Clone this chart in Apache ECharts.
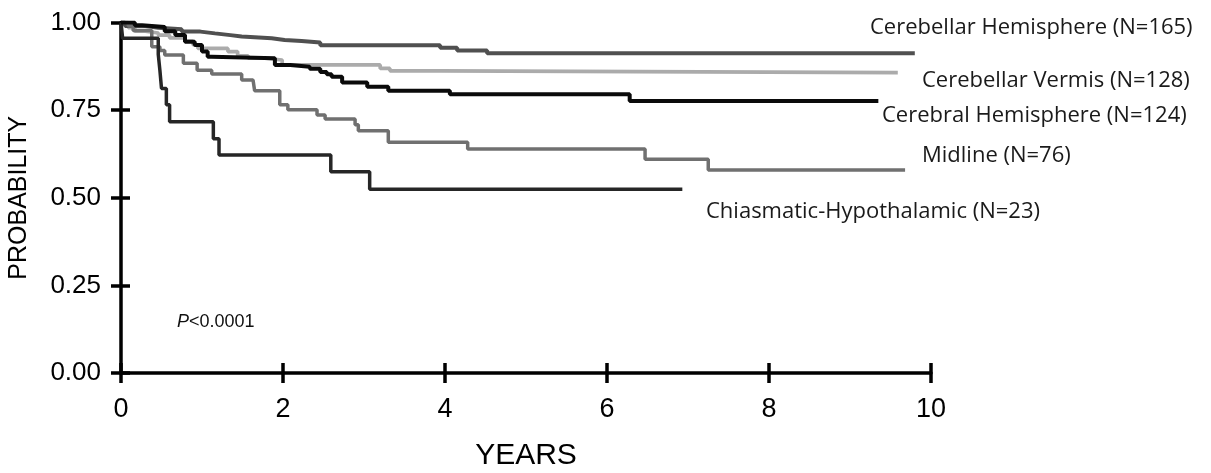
<!DOCTYPE html>
<html>
<head>
<meta charset="utf-8">
<script src="https://cdn.jsdelivr.net/npm/echarts@6/dist/echarts.min.js"></script>
<style>
  html, body { margin: 0; padding: 0; background: #fff; }
  #survival_chart { width: 1211px; height: 473px; }
</style>
</head>
<body>
<div id="survival_chart"></div>
<script>
// Kaplan-Meier steps: years where the curve drops, and the probability after the drop
// last entry = end of follow-up (no drop)
const cbHemiYears = [0, 0.05, 0.30, 0.46, 0.75, 0.98, 1.16, 1.35, 1.49, 1.86, 2.02, 2.23, 2.46, 3.94, 4.15, 4.52, 9.80]
const cbHemiProb = [1.0, 0.99, 0.985, 0.981, 0.974, 0.969, 0.964, 0.96, 0.955, 0.95, 0.947, 0.943, 0.935, 0.928, 0.92, 0.912, 0.912]

const vermisYears = [0, 0.09, 0.17, 0.30, 0.46, 0.60, 0.79, 0.89, 0.95, 1.32, 1.44, 1.57, 1.78, 1.99, 3.20, 3.32, 3.94, 9.59]
const vermisProb = [1.0, 0.985, 0.975, 0.97, 0.964, 0.956, 0.947, 0.936, 0.926, 0.917, 0.905, 0.898, 0.893, 0.879, 0.869, 0.862, 0.857, 0.857]

const cerebralYears = [0, 0.17, 0.26, 0.54, 0.67, 0.79, 0.91, 1.00, 1.07, 1.12, 1.90, 2.09, 2.33, 2.46, 2.54, 2.60, 2.73, 3.04, 3.30, 4.06, 6.28, 9.35]
const cerebralProb = [1.0, 0.992, 0.987, 0.975, 0.964, 0.945, 0.936, 0.917, 0.902, 0.898, 0.879, 0.874, 0.868, 0.859, 0.852, 0.845, 0.829, 0.817, 0.805, 0.795, 0.776, 0.776]

const midlineYears = [0, 0.09, 0.15, 0.38, 0.48, 0.54, 0.77, 0.94, 1.12, 1.49, 1.63, 1.65, 1.96, 2.06, 2.42, 2.52, 2.89, 2.93, 3.30, 4.28, 6.47, 7.25, 9.68]
const midlineProb = [1.0, 0.99, 0.977, 0.931, 0.92, 0.907, 0.884, 0.864, 0.853, 0.836, 0.831, 0.805, 0.765, 0.751, 0.736, 0.725, 0.708, 0.691, 0.658, 0.639, 0.61, 0.579, 0.579]

const chiasmYears = [0, 0.02, 0.46, 0.48, 0.50, 0.56, 0.60, 1.14, 1.21, 2.59, 3.07, 6.93]
const chiasmProb = [1.0, 0.955, 0.909, 0.864, 0.812, 0.765, 0.717, 0.668, 0.622, 0.574, 0.524, 0.524]

const yearTicks = [0, 2, 4, 6, 8, 10]
const probTicks = [0, 0.25, 0.5, 0.75, 1]

const groupNames = [
  'Cerebellar Hemisphere (N=165)',
  'Cerebellar Vermis (N=128)',
  'Cerebral Hemisphere (N=124)',
  'Midline (N=76)',
  'Chiasmatic-Hypothalamic (N=23)'
]

function zip (xs, ys) {
  return xs.map((x, i) => [x, ys[i]])
}

const dom = document.getElementById('survival_chart')
let myChart = echarts.init(dom)

const axisFont = 'Liberation Sans, Arial, sans-serif'
const labelFont = 'Open Sans, sans-serif'

function stepSeries (name, data, color, width) {
  return {
    name: name,
    type: 'line',
    step: 'end',
    symbol: 'none',
    data: data,
    lineStyle: { color: color, width: width },
    animation: false
  }
}

let seriesData = [
  stepSeries(groupNames[1], zip(vermisYears, vermisProb), '#ababab', 3.7),
  stepSeries(groupNames[0], zip(cbHemiYears, cbHemiProb), '#505050', 4),
  stepSeries(groupNames[3], zip(midlineYears, midlineProb), '#707070', 3.5),
  stepSeries(groupNames[4], zip(chiasmYears, chiasmProb), '#262626', 3.5),
  stepSeries(groupNames[2], zip(cerebralYears, cerebralProb), '#0a0a0a', 4)
]

// series labels, placed right of where each curve ends
const textLabels = [
  { text: groupNames[0], left: 870, top: 28 },
  { text: groupNames[1], left: 922, top: 81 },
  { text: groupNames[2], left: 882, top: 116 },
  { text: groupNames[3], left: 922, top: 156 },
  { text: groupNames[4], left: 706, top: 212 }
]

let graphics = textLabels.map(l => ({
  type: 'text',
  x: l.left,
  y: l.top,
  style: {
    text: l.text,
    font: '22px ' + labelFont,
    fill: '#1a1a1a',
    verticalAlign: 'middle'
  }
}))
graphics.push({
  type: 'text',
  x: 177,
  y: 322,
  style: {
    text: '{i|P}<0.0001',
    font: '18px ' + axisFont,
    fill: '#111',
    verticalAlign: 'middle',
    rich: {
      i: { fontStyle: 'italic', fontSize: 18, fontFamily: axisFont, fill: '#111' }
    }
  }
})

const xCommon = {
  type: 'value',
  min: 0,
  max: 10,
  interval: 2,
  position: 'bottom',
  splitLine: { show: false }
}
const yCommon = {
  type: 'value',
  min: 0,
  max: 1,
  interval: 0.25,
  position: 'left',
  splitLine: { show: false }
}

let option = {
  animation: false,
  grid: { left: 121, right: 280, top: 22.5, bottom: 100, containLabel: false, outerBoundsMode: 'none' },
  xAxis: [
    Object.assign({}, xCommon, {
      name: 'YEARS',
      nameLocation: 'middle',
      nameGap: 68,
      nameTextStyle: { fontFamily: axisFont, fontSize: 30, color: '#000' },
      axisLine: { show: true, onZero: false, lineStyle: { color: '#000', width: 3.5 } },
      axisTick: { show: true, inside: false, length: 10, lineStyle: { color: '#000', width: 3.5 } },
      axisLabel: {
        margin: 23,
        fontFamily: axisFont,
        fontSize: 27,
        color: '#000',
        formatter: v => (yearTicks.indexOf(v) >= 0 ? String(v) : '')
      }
    }),
    Object.assign({}, xCommon, {
      axisLine: { show: false },
      axisTick: { show: true, inside: true, length: 10, lineStyle: { color: '#000', width: 3.5 } },
      axisLabel: { show: false }
    })
  ],
  yAxis: [
    Object.assign({}, yCommon, {
      name: 'PROBABILITY',
      nameLocation: 'middle',
      nameGap: 89,
      nameTextStyle: { fontFamily: axisFont, fontSize: 25, color: '#000' },
      axisLine: { show: true, onZero: false, lineStyle: { color: '#000', width: 3.5 } },
      axisTick: { show: true, inside: false, length: 10, lineStyle: { color: '#000', width: 3.5 } },
      axisLabel: {
        margin: 20,
        fontFamily: axisFont,
        fontSize: 26,
        color: '#000',
        formatter: v => (probTicks.indexOf(v) >= 0 ? v.toFixed(2) : '')
      }
    }),
    Object.assign({}, yCommon, {
      axisLine: { show: false },
      axisTick: { show: true, inside: true, length: 9, lineStyle: { color: '#000', width: 3.5 } },
      axisLabel: { show: false }
    })
  ],
  graphic: graphics,
  series: seriesData
}

myChart.setOption(option, true)
window.onresize = function () {
  myChart.resize()
}
</script>
</body>
</html>
